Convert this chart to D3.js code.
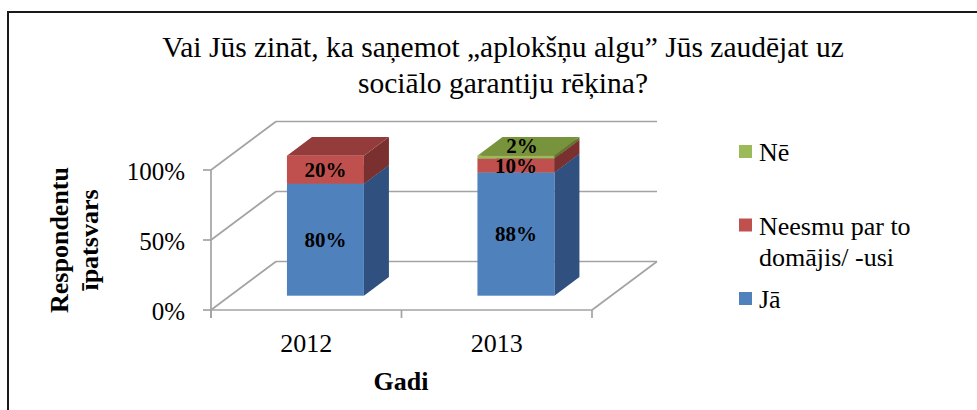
<!DOCTYPE html>
<html>
<head>
<meta charset="utf-8">
<script src="https://cdn.jsdelivr.net/npm/d3@7"></script>
<style>
  html, body { margin: 0; padding: 0; background: #ffffff; }
  svg { display: block; }
  text { font-family: "Liberation Serif", "Times New Roman", serif; fill: #000; }
</style>
</head>
<body>
<svg id="chart" width="977" height="410"></svg>
<script>
// ---- data ----
const categories = ["2012", "2013"];
const seriesKeys = ["ja", "neesmu", "ne"];
const seriesLabels = ["Jā", "Neesmu par to domājis/ -usi", "Nē"];
const jaValues = [0.80, 0.88];
const neesmuValues = [0.20, 0.10];
const neValues = [0.00, 0.02];
const yTicks = [0, 0.5, 1];
const titleLines = ["Vai Jūs zināt, ka saņemot „aplokšņu algu” Jūs zaudējat uz", "sociālo garantiju rēķina?"];
const yTitleLines = ["Respondentu", "īpatsvars"];
const xTitle = "Gadi";

// ---- style ----
const colors = {
  ja:     { front: "#4f81bd", top: "#3d6696", side: "#30517f" },
  neesmu: { front: "#c0504d", top: "#943c3b", side: "#7a302e" },
  ne:     { front: "#9bbb59", top: "#77933c", side: "#5f7630" }
};
const gridColor = "#a3a3a3";

const svg = d3.select("#chart");

// outer border
svg.append("rect").attr("x", 8).attr("y", 12).attr("width", 1000).attr("height", 440)
  .attr("fill", "none").attr("stroke", "#1a1a1a").attr("stroke-width", 2);

// title
svg.append("g").selectAll("text").data(titleLines).join("text")
  .attr("x", 503).attr("y", (d, i) => 57 + i * 36)
  .attr("text-anchor", "middle").style("font-size", "29.5px").text(d => d);

// scales
const plotX0 = 211, plotX1 = 592;
const y = d3.scaleLinear().domain([0, 1]).range([310, 170]);
const x = d3.scalePoint().domain(categories).range([plotX0, plotX1]).padding(0.5);
const DX = 65, DY = -48.5;       // full depth of the plot box
const d0 = 0.295, d1 = 0.68;      // bar depth span (fraction)
const barW = x.step() * 0.404;
const proj = (px, v, d) => [px + d * DX, y(v) + d * DY];

const grid = svg.append("g").attr("stroke", gridColor).attr("stroke-width", 1.7).attr("fill", "none");
const line = d3.line();
yTicks.forEach(t => {
  grid.append("path").attr("d", line([proj(plotX0, t, 1), proj(plotX1, t, 1)]));
  grid.append("path").attr("d", line([proj(plotX0, t, 0), proj(plotX0, t, 1)]));
});
grid.append("path").attr("d", line([proj(plotX1, 0, 0), proj(plotX1, 0, 1)]));

// bars
const rows = categories.map((c, i) => ({ cat: c, ja: jaValues[i], neesmu: neesmuValues[i], ne: neValues[i] }));
const stacked = d3.stack().keys(seriesKeys)(rows);
const bars = svg.append("g");
const labels = [];
const bdx = (d1 - d0) * DX, bdy = (d1 - d0) * DY;
stacked.forEach(layer => {
  const key = layer.key;
  layer.forEach(seg => {
    const v0 = seg[0], v1 = seg[1];
    if (v1 - v0 <= 0) return;
    const cx = x(seg.data.cat) + d0 * DX;
    const xl = cx - barW / 2, xr = cx + barW / 2;
    const yb = y(v0) + d0 * DY, yt = y(v1) + d0 * DY;
    const g = bars.append("g");
    g.append("path").attr("fill", colors[key].side)
      .attr("d", line([[xr, yb], [xr, yt], [xr + bdx, yt + bdy], [xr + bdx, yb + bdy]]) + "Z");
    g.append("path").attr("fill", colors[key].top)
      .attr("d", line([[xl, yt], [xr, yt], [xr + bdx, yt + bdy], [xl + bdx, yt + bdy]]) + "Z");
    g.append("rect").attr("x", xl).attr("y", yt).attr("width", barW).attr("height", yb - yt)
      .attr("fill", colors[key].front);
    const h = yb - yt;
    if (h < 10) {
      labels.push({ x: cx + bdx * 0.24, y: yt - 2.5, text: d3.format(".0%")(v1 - v0) });
    } else {
      labels.push({ x: cx, y: (yt + yb) / 2 + 7.3, text: d3.format(".0%")(v1 - v0) });
    }
  });
});

// front axes
const axisG = svg.append("g").attr("stroke", gridColor).attr("stroke-width", 1.7).attr("fill", "none");
axisG.append("path").attr("d", line([[plotX0, y(1)], [plotX0, y(0) + 8]]));
axisG.append("path").attr("d", line([[plotX0, y(0)], [plotX1, y(0)]]));
yTicks.forEach(t => axisG.append("path").attr("d", line([[plotX0 - 8, y(t)], [plotX0, y(t)]])));
const xEdges = [plotX0, ...categories.map((c, i) => plotX0 + x.step() * (i + 1))];
xEdges.forEach(e => axisG.append("path").attr("d", line([[e, y(0)], [e, y(0) + 8]])));

// tick labels
svg.append("g").selectAll("text").data(yTicks).join("text")
  .attr("x", 185).attr("y", d => y(d) + 9.5).attr("text-anchor", "end")
  .style("font-size", "25px").text(d => d3.format(".0%")(d));
svg.append("g").selectAll("text").data(categories).join("text")
  .attr("x", d => x(d)).attr("y", 352).attr("text-anchor", "middle")
  .style("font-size", "26px").text(d => d);

// data labels
svg.append("g").selectAll("text").data(labels).join("text")
  .attr("x", d => d.x).attr("y", d => d.y).attr("text-anchor", "middle")
  .style("font-size", "21px").style("font-weight", "bold").text(d => d.text);

// axis titles
svg.append("text").attr("x", 401).attr("y", 390).attr("text-anchor", "middle")
  .style("font-size", "26px").style("font-weight", "bold").text(xTitle);
svg.append("g").selectAll("text").data(yTitleLines).join("text")
  .attr("transform", (d, i) => `translate(${68 + i * 30},240) rotate(-90)`)
  .attr("text-anchor", "middle").style("font-size", "26px").style("font-weight", "bold").text(d => d);

// legend (top to bottom: Nē, Neesmu, Jā)
const legendOrder = [2, 1, 0];
const legendCenters = [151.5, 225, 298.5];
const legend = svg.append("g");
function wrapWords(str, maxW, size) {
  const tmp = svg.append("text").style("font-size", size + "px");
  const words = str.split(" ");
  const out = [];
  let cur = "";
  words.forEach(w => {
    const test = cur ? cur + " " + w : w;
    tmp.text(test);
    if (tmp.node().getComputedTextLength() > maxW && cur) { out.push(cur); cur = w; }
    else cur = test;
  });
  if (cur) out.push(cur);
  tmp.remove();
  return out;
}
legendOrder.forEach((si, k) => {
  const key = seriesKeys[si];
  const cy = legendCenters[k];
  legend.append("rect").attr("x", 739).attr("y", cy - 6.5).attr("width", 13).attr("height", 13)
    .attr("fill", colors[key].front);
  const linesTxt = wrapWords(seriesLabels[si], 170, 26);
  linesTxt.forEach((t, j) => {
    legend.append("text").attr("x", 759).attr("y", cy + 9.5 + j * 31)
      .style("font-size", "26px").text(t);
  });
});
</script>
</body>
</html>
